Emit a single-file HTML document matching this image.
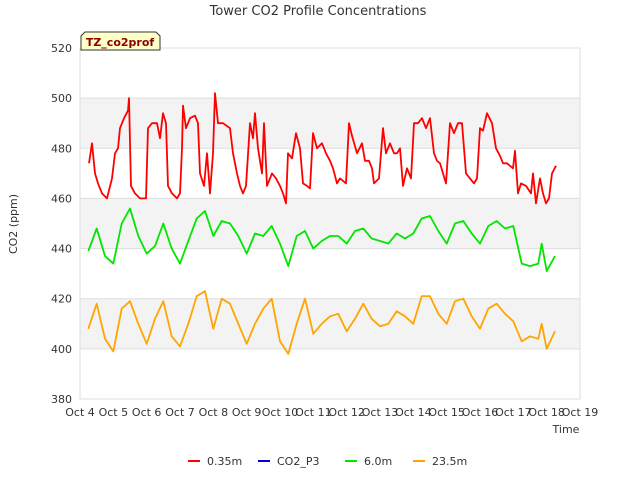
<!DOCTYPE html>
<html><head><meta charset="utf-8"><style>
body{margin:0;background:#fff;font-family:"Liberation Sans","DejaVu Sans",sans-serif}
svg text{font-family:"DejaVu Sans","Liberation Sans",sans-serif}
</style></head><body>
<svg id="c" width="640" height="480" xmlns="http://www.w3.org/2000/svg">
<text x="318" y="15" text-anchor="middle" font-size="13" fill="#333">Tower CO2 Profile Concentrations</text>
<text transform="translate(17,224) rotate(-90)" text-anchor="middle" font-size="11" fill="#333">CO2 (ppm)</text>
<text x="566" y="433" text-anchor="middle" font-size="11" fill="#333">Time</text>
<g id="bands"></g><g id="grid"></g><g id="yt"></g><g id="xt"></g><g id="series"></g>
<g>
<path d="M81,50 L81,36 L85,32 L156,32 L160,36 L160,50 Z" fill="#ffffc8" stroke="#333" stroke-width="1"/>
<text x="120" y="46" text-anchor="middle" font-size="11" font-weight="bold" fill="#8b0000">TZ_co2prof</text>
</g>
<g id="legend"></g>
</svg>
<script>
const yTicks=[380,400,420,440,460,480,500,520];
const xTickLabels=["Oct 4","Oct 5","Oct 6","Oct 7","Oct 8","Oct 9","Oct 10","Oct 11","Oct 12","Oct 13","Oct 14","Oct 15","Oct 16","Oct 17","Oct 18","Oct 19"];
const xTickDays=[4,5,6,7,8,9,10,11,12,13,14,15,16,17,18,19];
const redT=[4.27,4.36,4.45,4.54,4.66,4.81,4.96,5.05,5.14,5.2,5.32,5.44,5.47,5.53,5.65,5.8,5.98,6.04,6.16,6.31,6.4,6.49,6.58,6.64,6.76,6.91,7.0,7.06,7.09,7.18,7.3,7.45,7.54,7.6,7.72,7.81,7.9,7.99,8.05,8.14,8.29,8.5,8.59,8.71,8.8,8.89,8.98,9.1,9.19,9.25,9.34,9.46,9.52,9.61,9.76,9.88,10.0,10.09,10.18,10.24,10.36,10.48,10.6,10.69,10.81,10.9,10.99,11.11,11.26,11.38,11.5,11.59,11.71,11.8,11.98,12.07,12.16,12.31,12.46,12.55,12.67,12.76,12.82,12.97,13.09,13.18,13.3,13.42,13.51,13.6,13.69,13.81,13.93,14.02,14.14,14.26,14.38,14.5,14.62,14.71,14.8,14.89,14.98,15.1,15.22,15.34,15.46,15.58,15.7,15.82,15.91,16.0,16.09,16.21,16.36,16.48,16.6,16.69,16.81,16.99,17.05,17.14,17.23,17.38,17.53,17.59,17.68,17.8,17.89,17.98,18.07,18.16,18.28];
const redV=[474,482,470,466,462,460,468,478,480,488,492,495,500,465,462,460,460,488,490,490,484,494,490,465,462,460,462,480,497,488,492,493,490,470,465,478,462,478,502,490,490,488,478,470,465,462,465,490,484,494,480,470,490,465,470,468,465,462,458,478,476,486,480,466,465,464,486,480,482,478,475,472,466,468,466,490,485,478,482,475,475,472,466,468,488,478,482,478,478,480,465,472,468,490,490,492,488,492,478,475,474,470,466,490,486,490,490,470,468,466,468,488,487,494,490,480,477,474,474,472,479,462,466,465,462,470,458,468,462,458,460,470,473];
const gT=[4.25,4.5,4.75,5,5.25,5.5,5.75,6,6.25,6.5,6.75,7,7.25,7.5,7.75,8,8.25,8.5,8.75,9,9.25,9.5,9.75,10,10.25,10.5,10.75,11,11.25,11.5,11.75,12,12.25,12.5,12.75,13,13.25,13.5,13.75,14,14.25,14.5,14.75,15,15.25,15.5,15.75,16,16.25,16.5,16.75,17,17.25,17.5,17.75,17.85,18,18.25];
const gV=[439,448,437,434,450,456,445,438,441,450,440,434,443,452,455,445,451,450,445,438,446,445,449,442,433,445,447,440,443,445,445,442,447,448,444,443,442,446,444,446,452,453,447,442,450,451,446,442,449,451,448,449,434,433,434,442,431,437];
const oV=[408,418,404,399,416,419,410,402,412,419,405,401,410,421,423,408,420,418,410,402,410,416,420,403,398,410,420,406,410,413,414,407,412,418,412,409,410,415,413,410,421,421,414,410,419,420,413,408,416,418,414,411,403,405,404,410,400,407];
const NS="http://www.w3.org/2000/svg";
const X0=80,X1=580,Y0=399,Y1=48;
const xs=d=>X0+(d-4)/15*(X1-X0);
const ys=v=>Y0-(v-380)/140*(Y0-Y1);
function mk(p,tag,at){const e=document.createElementNS(NS,tag);for(const k in at)e.setAttribute(k,at[k]);document.getElementById(p).appendChild(e);return e;}
[[480,500],[440,460],[400,420]].forEach(b=>{const r=mk('bands','rect',{x:X0,y:ys(b[1]),width:X1-X0,height:ys(b[0])-ys(b[1]),fill:'#f3f3f3'});

});
const fr=mk('grid','rect',{x:X0,y:Y1,width:X1-X0,height:Y0-Y1,fill:'none',stroke:'#ddd'});


yTicks.forEach(v=>{const l=mk('grid','line',{x1:X0,x2:X1,y1:ys(v),y2:ys(v),stroke:'#ddd'});


const t=mk('yt','text',{x:72,y:ys(v)+4,'text-anchor':'end','font-size':11,fill:'#333'});t.textContent=v;

});
xTickDays.forEach((d,i)=>{const t=mk('xt','text',{x:xs(d),y:416,'text-anchor':'middle','font-size':11,fill:'#333'});t.textContent=xTickLabels[i];

});
function line(T,V,c,n){const p=mk('series','polyline',{points:T.map((t,i)=>xs(t).toFixed(1)+','+ys(V[i]).toFixed(1)).join(' '),fill:'none',stroke:c,'stroke-width':1.8,'stroke-linejoin':'round'});

}
line(redT,redV,'#ff0000','series-0.35m');
line(gT,gV,'#00e600','series-6.0m');
line(gT,oV,'#ffa500','series-23.5m');
[['0.35m','#ff0000',188],['CO2_P3','#0000cc',258],['6.0m','#00e600',345],['23.5m','#ffa500',413]].forEach(e=>{
const l=mk('legend','line',{x1:e[2],x2:e[2]+12,y1:461,y2:461,stroke:e[1],'stroke-width':2});


const t=mk('legend','text',{x:e[2]+19,y:465,'font-size':11,fill:'#333'});t.textContent=e[0];

});
</script>
</body></html>
